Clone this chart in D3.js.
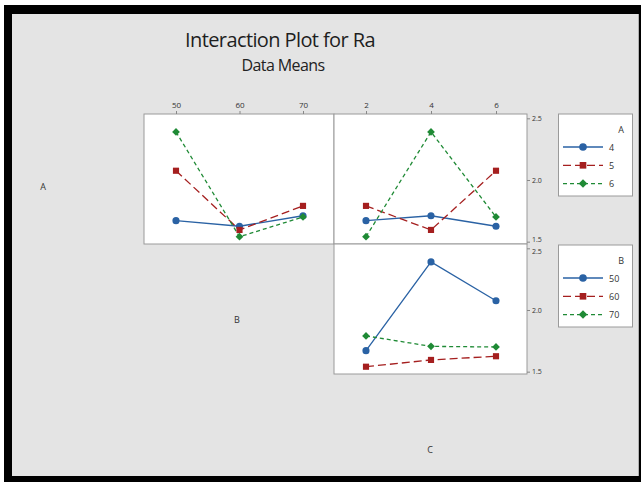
<!DOCTYPE html>
<html><head><meta charset="utf-8">
<script src="https://cdn.jsdelivr.net/npm/d3@7"></script>
<style>html,body{margin:0;padding:0;background:#fff;}svg{display:block;}</style>
</head><body>
<script>
// ---- data ----
const levelsA = ["4", "5", "6"];
const levelsB = ["50", "60", "70"];
const levelsC = ["2", "4", "6"];
// means of Ra for A (rows) across B levels
const meansAB = [[1.67, 1.625, 1.71], [2.075, 1.595, 1.79], [2.39, 1.54, 1.70]];
// means of Ra for A (rows) across C levels
const meansAC = [[1.67, 1.71, 1.625], [1.79, 1.595, 2.075], [1.54, 2.39, 1.70]];
// means of Ra for B (rows) across C levels
const meansBC = [[1.67, 2.39, 2.075], [1.54, 1.595, 1.625], [1.79, 1.705, 1.70]];
const yTicks = [1.5, 2.0, 2.5];
const yTickLabels = ["1.5", "2.0", "2.5"];

const W = 641, H = 482;
const svg = d3.select("body").append("svg").attr("width", W).attr("height", H);
const font = "'Open Sans', 'Noto Sans', sans-serif";

// frame
svg.append("rect").attr("x", 0).attr("y", 0).attr("width", W).attr("height", H).attr("fill", "#fff");
svg.append("rect").attr("x", 4).attr("y", 5).attr("width", W - 4).attr("height", H - 5).attr("fill", "#000");
svg.append("rect").attr("x", 12).attr("y", 14).attr("width", 627).attr("height", 462).attr("fill", "#e4e4e4");
svg.append("line").attr("x1", 638.5).attr("x2", 638.5).attr("y1", 14).attr("y2", 476).attr("stroke", "#b0b0b0");

// titles
svg.append("text").attr("x", 280).attr("y", 47).attr("text-anchor", "middle")
  .attr("font-family", font).attr("font-size", 20).attr("font-weight", 500).attr("fill", "#1e1e1e").attr("letter-spacing", -0.6)
  .text("Interaction Plot for Ra");
svg.append("text").attr("x", 283).attr("y", 71).attr("text-anchor", "middle")
  .attr("font-family", font).attr("font-size", 16).attr("fill", "#222").attr("letter-spacing", -0.6)
  .text("Data Means");

const colors = ["#2a62a4", "#a51f1f", "#1f8a35"];
const dashes = [null, "8,4", "4,3"];
const shapes = [d3.symbolCircle, d3.symbolSquare, d3.symbolSquare];
const rot = [0, 0, 45];
const symSize = [40, 38, 30];

const yDomain = [1.481, 2.535];
const top0 = 114, rowH = 130;
const colX = [[144, 334], [334, 527]];

function marker(si, cx, cy, extra) {
  svg.append("path").attr("d", d3.symbol().type(shapes[si]).size(symSize[si] + (extra || 0))())
    .attr("transform", `translate(${cx},${cy}) rotate(${rot[si]})`).attr("fill", colors[si]);
}

function panel(x0, x1, y0, cats, series) {
  svg.append("rect").attr("x", x0).attr("y", y0).attr("width", x1 - x0).attr("height", rowH)
    .attr("fill", "#fff").attr("stroke", "#9a9a9a").attr("stroke-width", 1);
  const x = d3.scalePoint().domain(cats).range([x0 + 32, x1 - 31]);
  const y = d3.scaleLinear().domain(yDomain).range([y0 + rowH, y0]);
  const line = d3.line().x((d, i) => x(cats[i])).y(d => y(d));
  series.forEach((vals, si) => {
    svg.append("path").attr("d", line(vals)).attr("fill", "none")
      .attr("stroke", colors[si]).attr("stroke-width", 1.3)
      .attr("stroke-dasharray", dashes[si]);
  });
  series.forEach((vals, si) => {
    vals.forEach((v, i) => marker(si, x(cats[i]), y(v)));
  });
  return {x, y};
}

// top row
const p1 = panel(colX[0][0], colX[0][1], top0, levelsB, meansAB);
const p2 = panel(colX[1][0], colX[1][1], top0, levelsC, meansAC);
// bottom row
const p3 = panel(colX[1][0], colX[1][1], top0 + rowH, levelsC, meansBC);

// top axes
function topAxis(p) {
  const g = svg.append("g").attr("transform", `translate(0,${top0})`);
  g.call(d3.axisTop(p.x).tickSize(3).tickPadding(3));
  g.select(".domain").remove();
  g.selectAll("line").attr("stroke", "#888");
  g.selectAll("text").attr("font-family", font).attr("font-size", 8).attr("fill", "#333");
}
topAxis(p1);
topAxis(p2);

// right axes
[top0, top0 + rowH].forEach((y0, r) => {
  const y = d3.scaleLinear().domain(yDomain).range([y0 + rowH, y0]);
  const g = svg.append("g").attr("transform", `translate(527,0)`);
  g.call(d3.axisRight(y).tickValues(yTicks).tickFormat((d, i) => yTickLabels[i]).tickSize(3).tickPadding(2));
  g.select(".domain").remove();
  g.selectAll("line").attr("stroke", "#888");
  g.selectAll("text").attr("font-family", font).attr("font-size", 7).attr("fill", "#333")
    .attr("dy", d => (r === 0 && d === 1.5) ? "-0.05em" : (r === 1 && d === 2.5) ? "0.75em" : "0.32em");
});

// factor labels
const lab = (t, x, y) => svg.append("text").attr("x", x).attr("y", y).attr("text-anchor", "middle")
  .attr("font-family", font).attr("font-size", 9).attr("fill", "#333").text(t);
lab("A", 43, 190);
lab("B", 237, 323);
lab("C", 430, 453);

// legends
function legend(y0, title, labels) {
  svg.append("rect").attr("x", 558.5).attr("y", y0).attr("width", 74).attr("height", 82)
    .attr("fill", "#fff").attr("stroke", "#9a9a9a");
  svg.append("text").attr("x", 624).attr("y", y0 + 19).attr("text-anchor", "end")
    .attr("font-family", font).attr("font-size", 9).attr("fill", "#333").text(title);
  labels.forEach((l, i) => {
    const yy = y0 + 33 + i * 18.3;
    svg.append("line").attr("x1", 563).attr("x2", 603).attr("y1", yy).attr("y2", yy)
      .attr("stroke", colors[i]).attr("stroke-width", 1.3).attr("stroke-dasharray", dashes[i]);
    marker(i, 583, yy, 6);
    svg.append("text").attr("x", 609).attr("y", yy + 3.5)
      .attr("font-family", font).attr("font-size", 9).attr("fill", "#333").text(l);
  });
}
legend(114, "A", levelsA);
legend(245, "B", levelsB);
</script>
</body></html>
